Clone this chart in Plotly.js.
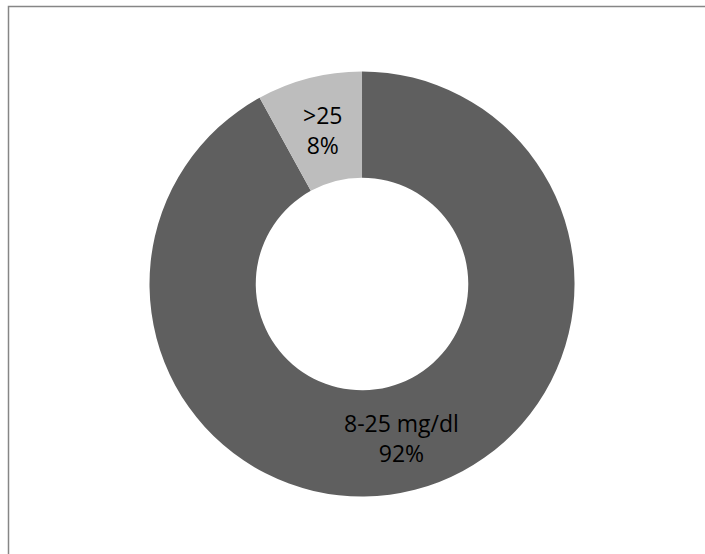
<!DOCTYPE html>
<html>
<head>
<meta charset="utf-8">
<script src="https://cdn.plot.ly/plotly-3.0.1.min.js"></script>
<style>
  html, body { margin: 0; padding: 0; background: #ffffff; }
  #chart { width: 705px; height: 554px; }
</style>
</head>
<body>
<div id="chart"></div>
<script>
// Share of readings by range
const categories = ['8-25 mg/dl', '>25'];
const shares = [92, 8];
const sliceColors = ['#5f5f5f', '#bdbdbd'];

const W = 705, H = 554;
const domainX = [0.212, 0.815];
const domainY = [0.1038, 0.871];
const holeFrac = 0.5;

const trace = {
  type: 'pie',
  labels: categories,
  values: shares,
  hole: holeFrac,
  sort: false,
  direction: 'clockwise',
  rotation: 0,
  marker: { colors: sliceColors, line: { width: 0 } },
  textinfo: 'none',
  hoverinfo: 'none',
  showlegend: false,
  domain: { x: domainX, y: domainY }
};

// Data labels: placed on each slice's bisector, halfway across the ring.
const total = shares.reduce((a, b) => a + b, 0);
const cxPx = (domainX[0] + domainX[1]) / 2 * W;
const cyPx = (domainY[0] + domainY[1]) / 2 * H;
const rOuter = Math.min((domainX[1] - domainX[0]) * W, (domainY[1] - domainY[0]) * H) / 2;
const rMid = rOuter * (1 + holeFrac) / 2;
let cum = 0;
const annotations = shares.map((v, i) => {
  const midFrac = cum + v / total / 2;
  cum += v / total;
  const ang = midFrac * 2 * Math.PI; // slices run clockwise from 12 o'clock
  return {
    xref: 'paper', yref: 'paper',
    x: (cxPx + rMid * Math.sin(ang)) / W,
    y: (cyPx + rMid * Math.cos(ang)) / H,
    xanchor: 'center', yanchor: 'middle',
    showarrow: false,
    text: categories[i] + '<br>' + Math.round(v / total * 100) + '%',
    font: { family: 'Open Sans, sans-serif', size: 23, color: '#000000' }
  };
});

const layout = {
  width: W,
  height: H,
  margin: { l: 0, r: 0, t: 0, b: 0 },
  paper_bgcolor: '#ffffff',
  plot_bgcolor: '#ffffff',
  showlegend: false,
  annotations: annotations,
  shapes: [{
    type: 'rect', xref: 'paper', yref: 'paper',
    x0: 8.5 / W, x1: 1.02, y0: -0.02, y1: 1 - 6.5 / H,
    line: { color: '#868686', width: 1.5 },
    fillcolor: 'rgba(0,0,0,0)'
  }]
};

Plotly.newPlot('chart', [trace], layout, { displayModeBar: false, staticPlot: true });
</script>
</body>
</html>
